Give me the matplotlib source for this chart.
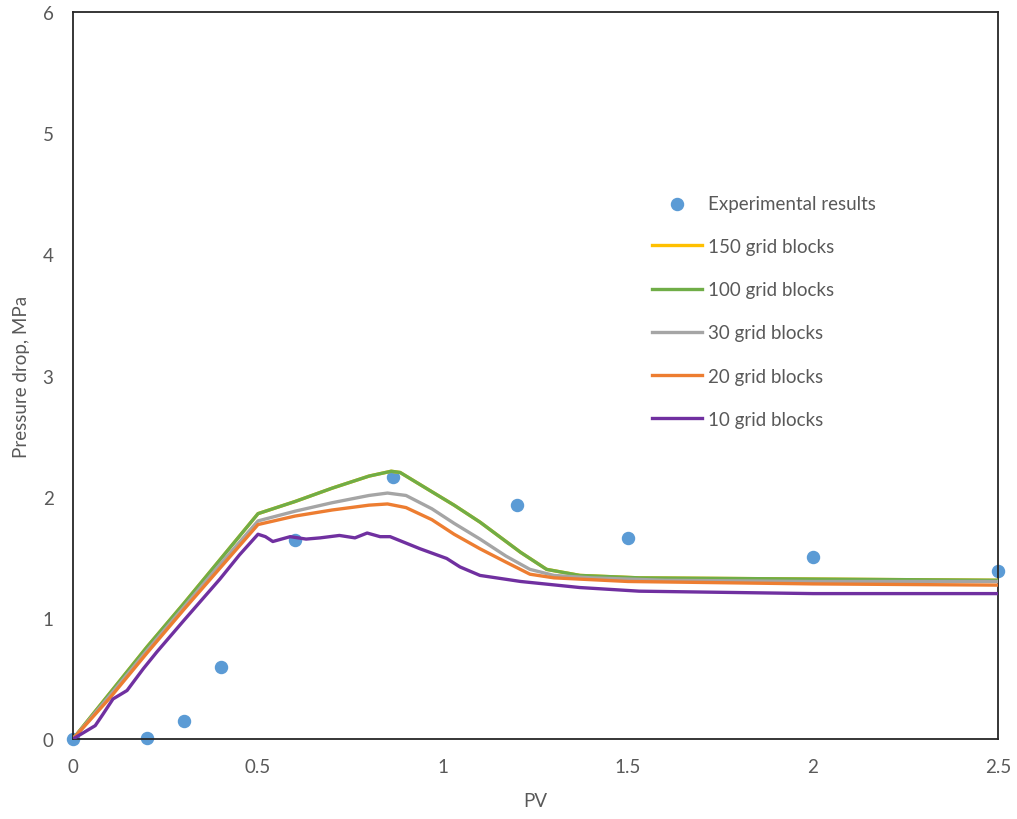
"""
Pressure drop vs injected pore volume: experiment and grid-refinement runs
"""
import matplotlib
matplotlib.use("Agg")
import matplotlib.pyplot as plt

#------------------------------------------------------------------------------
# Data
#------------------------------------------------------------------------------

exp_pv = [0.0, 0.2, 0.3, 0.4, 0.6, 0.865, 1.2, 1.5, 2.0, 2.5]
exp_dp = [0.0, 0.01, 0.15, 0.59, 1.64, 2.16, 1.93, 1.66, 1.50, 1.39]

pv_150 = [0.0, 0.1, 0.2, 0.3, 0.4, 0.5, 0.6, 0.7, 0.8, 0.86, 0.884, 0.965, 1.03, 1.10, 1.21, 1.28, 1.37, 1.53, 2.0, 2.5]
dp_150 = [0.0, 0.38, 0.76, 1.12, 1.49, 1.86, 1.96, 2.07, 2.17, 2.21, 2.20, 2.05, 1.93, 1.79, 1.54, 1.40, 1.35, 1.33, 1.32, 1.31]

pv_100 = [0.0, 0.1, 0.2, 0.3, 0.4, 0.5, 0.6, 0.7, 0.8, 0.86, 0.884, 0.965, 1.03, 1.10, 1.21, 1.28, 1.37, 1.53, 2.0, 2.5]
dp_100 = [0.0, 0.38, 0.76, 1.12, 1.49, 1.86, 1.96, 2.07, 2.17, 2.21, 2.20, 2.05, 1.93, 1.79, 1.54, 1.40, 1.35, 1.33, 1.32, 1.31]

pv_30 = [0.0, 0.1, 0.2, 0.3, 0.4, 0.5, 0.6, 0.7, 0.8, 0.85, 0.9, 0.97, 1.03, 1.10, 1.17, 1.235, 1.3, 1.4, 1.6, 2.0, 2.5]
dp_30 = [0.0, 0.36, 0.73, 1.09, 1.45, 1.80, 1.88, 1.95, 2.01, 2.03, 2.01, 1.90, 1.78, 1.65, 1.51, 1.40, 1.35, 1.33, 1.31, 1.30, 1.30]

pv_20 = [0.0, 0.1, 0.2, 0.3, 0.4, 0.5, 0.6, 0.7, 0.8, 0.85, 0.9, 0.97, 1.03, 1.10, 1.17, 1.235, 1.3, 1.5, 2.0, 2.5]
dp_20 = [0.0, 0.34, 0.71, 1.07, 1.42, 1.77, 1.84, 1.89, 1.93, 1.94, 1.91, 1.81, 1.69, 1.57, 1.46, 1.36, 1.33, 1.30, 1.28, 1.27]

pv_10 = [0.0, 0.06, 0.08, 0.108, 0.146, 0.19, 0.227, 0.3, 0.397, 0.45, 0.5, 0.52, 0.54, 0.587, 0.63, 0.668, 0.72,
         0.762, 0.795, 0.83, 0.857, 0.938, 1.01, 1.046, 1.10, 1.21, 1.37, 1.53, 2.0, 2.5]
dp_10 = [0.0, 0.11, 0.2, 0.33, 0.40, 0.58, 0.72, 0.98, 1.32, 1.52, 1.69, 1.67, 1.63, 1.67, 1.65, 1.66, 1.68,
         1.66, 1.70, 1.67, 1.67, 1.57, 1.49, 1.42, 1.35, 1.30, 1.25, 1.22, 1.20, 1.20]

#------------------------------------------------------------------------------
# Plot
#------------------------------------------------------------------------------

plt.rcParams['font.family'] = ['Lato', 'DejaVu Sans']
txt = '#595959'

fig = plt.figure(figsize=(10.17, 8.2), dpi=100)
ax = fig.add_axes([0.0718, 0.0976, 0.9095, 0.8864])

ax.scatter(exp_pv, exp_dp, s=75, color='#5B9BD5', zorder=2, label='Experimental results', clip_on=False)
ax.plot(pv_150, dp_150, color='#FFC000', lw=2.4, label='150 grid blocks', zorder=3)
ax.plot(pv_100, dp_100, color='#70AD47', lw=2.4, label='100 grid blocks', zorder=4)
ax.plot(pv_30, dp_30, color='#A5A5A5', lw=2.4, label='30 grid blocks', zorder=5)
ax.plot(pv_20, dp_20, color='#ED7D31', lw=2.4, label='20 grid blocks', zorder=6)
ax.plot(pv_10, dp_10, color='#7030A0', lw=2.4, label='10 grid blocks', zorder=7)

ax.set_xlim(0, 2.5)
ax.set_ylim(0, 6)
ax.set_xticks([0, 0.5, 1, 1.5, 2, 2.5])
ax.set_xticklabels(['0', '0.5', '1', '1.5', '2', '2.5'])
ax.set_yticks([0, 1, 2, 3, 4, 5, 6])
ax.tick_params(length=0, labelsize=13.5, labelcolor=txt)
ax.tick_params(axis='x', pad=14)
ax.tick_params(axis='y', pad=14)
for sp in ax.spines.values():
    sp.set_color('#262626')
    sp.set_linewidth(1.3)

ax.set_xlabel('PV', fontsize=13.5, color=txt, labelpad=12)
ax.set_ylabel('Pressure drop, MPa', fontsize=13.5, color=txt, labelpad=9)

leg = ax.legend(loc='upper left', bbox_to_anchor=(0.6076, 0.772), frameon=False, fontsize=13.5,
                handlelength=2.67, handletextpad=0.32, labelspacing=1.40, labelcolor=txt)

fig.savefig('out.png', dpi=100)
